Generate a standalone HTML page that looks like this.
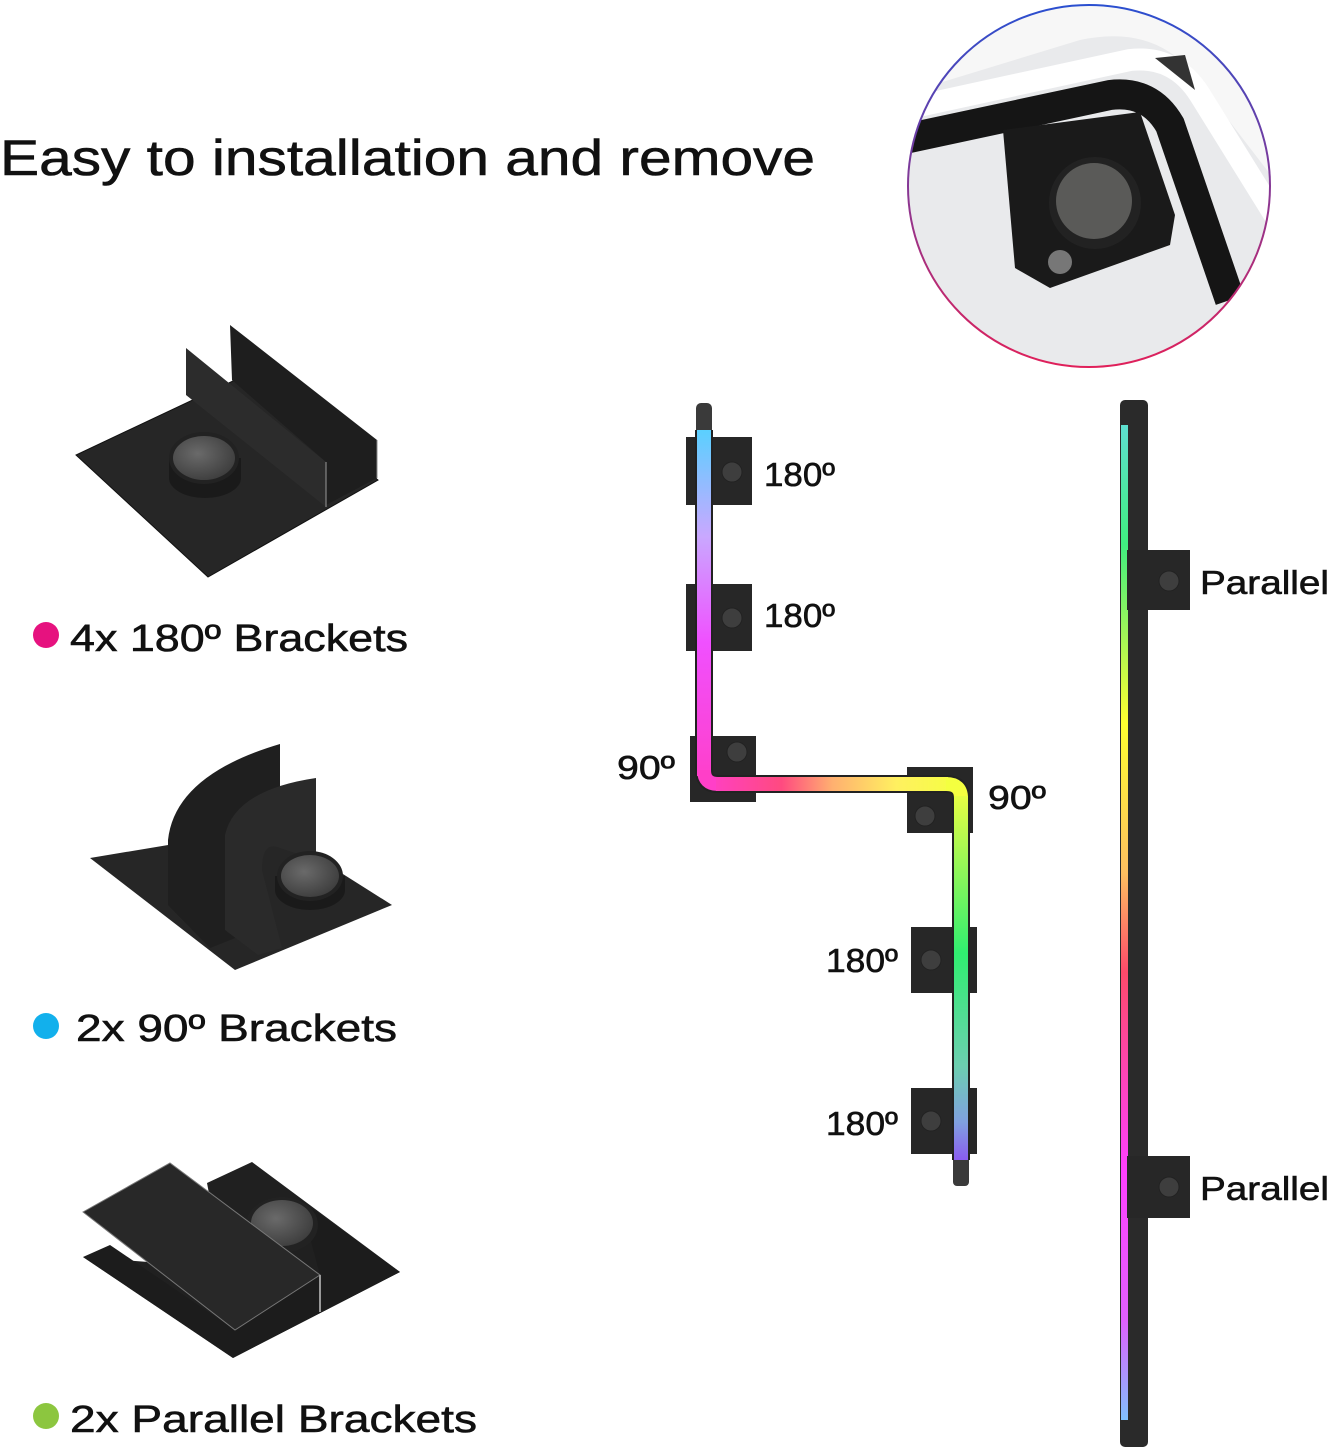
<!DOCTYPE html>
<html><head><meta charset="utf-8"><style>
html,body{margin:0;padding:0;background:#fff;}
svg{display:block;}
text{font-family:"Liberation Sans",sans-serif;fill:#111;stroke:#111;stroke-width:0.6;}
</style></head><body>
<svg width="1331" height="1450" viewBox="0 0 1331 1450" xmlns="http://www.w3.org/2000/svg">
<defs>
<linearGradient id="gv1" x1="0" y1="430" x2="0" y2="784" gradientUnits="userSpaceOnUse">
<stop offset="0" stop-color="#5ad0ff"/><stop offset="0.3" stop-color="#c9a8ff"/><stop offset="0.6" stop-color="#f050ff"/><stop offset="1" stop-color="#ff3fc8"/></linearGradient>
<linearGradient id="gh" x1="705" y1="0" x2="960" y2="0" gradientUnits="userSpaceOnUse">
<stop offset="0" stop-color="#ff3fc8"/><stop offset="0.3" stop-color="#ff4a80"/><stop offset="0.5" stop-color="#ffb070"/><stop offset="0.75" stop-color="#fff060"/><stop offset="1" stop-color="#f4ff40"/></linearGradient>
<linearGradient id="gv2" x1="0" y1="784" x2="0" y2="1160" gradientUnits="userSpaceOnUse">
<stop offset="0" stop-color="#f4ff40"/><stop offset="0.45" stop-color="#30ee70"/><stop offset="0.75" stop-color="#6ccfb0"/><stop offset="0.9" stop-color="#80a0e0"/><stop offset="1" stop-color="#8a5cf0"/></linearGradient>
<linearGradient id="gr" x1="0" y1="425" x2="0" y2="1420" gradientUnits="userSpaceOnUse">
<stop offset="0" stop-color="#5ee0d0"/><stop offset="0.12" stop-color="#40ee80"/><stop offset="0.3" stop-color="#ffff30"/><stop offset="0.45" stop-color="#ffc060"/><stop offset="0.55" stop-color="#ff4a6a"/><stop offset="0.75" stop-color="#ff40ff"/><stop offset="0.9" stop-color="#e060ff"/><stop offset="1" stop-color="#80c0ff"/></linearGradient>
<linearGradient id="ring" x1="0" y1="0" x2="0" y2="1">
<stop offset="0" stop-color="#2a4fd0"/><stop offset="1" stop-color="#e0205a"/></linearGradient>
<clipPath id="cc"><circle cx="1089" cy="186" r="181"/></clipPath>
<radialGradient id="mag" cx="0.4" cy="0.4" r="0.7"><stop offset="0" stop-color="#6a6a6a"/><stop offset="1" stop-color="#3a3a3a"/></radialGradient>
</defs>

<text x="0" y="175" font-size="50" textLength="815" lengthAdjust="spacingAndGlyphs">Easy to installation and remove</text>

<!-- circle photo -->
<g clip-path="url(#cc)">
<rect x="900" y="0" width="380" height="380" fill="#e9eaec"/>
<path d="M900 95 L1080 40 Q1150 25 1190 70 L1290 200 L1290 0 L900 0Z" fill="#f7f7f7"/>
<path d="M900 110 L1130 60 Q1175 55 1200 95 L1290 240" stroke="#fff" stroke-width="22" fill="none"/>
<path d="M900 140 L1110 95 Q1150 90 1170 125 L1230 300" stroke="#151515" stroke-width="30" fill="none"/>
<polygon points="1155,58 1185,55 1195,90" fill="#333"/>
<polygon points="1003,130 1140,112 1175,215 1170,245 1050,288 1015,268" fill="#1a1a1a"/>
<circle cx="1095" cy="203" r="46" fill="#222"/>
<circle cx="1094" cy="201" r="38" fill="#5a5a58"/>
<circle cx="1060" cy="262" r="12" fill="#777"/>
</g>
<circle cx="1089" cy="186" r="181" fill="none" stroke="url(#ring)" stroke-width="2"/>

<!-- bracket 1 -->
<polygon points="76,455 208,577 378,480 252,372" fill="#262626" stroke="#111"/>
<polygon points="230,325 377,440 377,478 326,505 326,462 232,380" fill="#1e1e1e"/>
<polygon points="186,348 326,462 326,507 186,395" fill="#2c2c2c"/>
<line x1="326" y1="462" x2="326" y2="507" stroke="#999"/>
<line x1="377" y1="440" x2="377" y2="478" stroke="#888"/>
<ellipse cx="205" cy="478" rx="36" ry="20" fill="#1a1a1a"/>
<rect x="169" y="458" width="72" height="20" fill="#1a1a1a"/>
<ellipse cx="204" cy="458" rx="35" ry="26" fill="#222"/>
<ellipse cx="204" cy="458" rx="31" ry="22" fill="url(#mag)"/>
<circle cx="46" cy="635" r="13" fill="#e6127f"/>
<text x="70" y="651" font-size="38" textLength="338" lengthAdjust="spacingAndGlyphs">4x 180º Brackets</text>

<!-- bracket 2 -->
<polygon points="90,858 235,970 392,905 270,828" fill="#262626"/>
<path d="M280,744 L280,825 Q230,835 228,880 L235,938 L210,948 L168,905 L168,840 Q175,775 280,744Z" fill="#1f1f1f"/>
<path d="M316,778 L316,860 L280,848 Q262,840 262,870 L282,948 L258,955 L225,930 L225,835 Q235,790 316,778Z" fill="#2a2a2a"/>
<ellipse cx="310" cy="890" rx="35" ry="20" fill="#1a1a1a"/>
<rect x="275" y="876" width="70" height="14" fill="#1a1a1a"/>
<ellipse cx="310" cy="876" rx="33" ry="25" fill="#222"/>
<ellipse cx="310" cy="876" rx="29" ry="21" fill="url(#mag)"/>
<circle cx="46" cy="1026" r="13" fill="#12b0ec"/>
<text x="76" y="1041" font-size="38" textLength="321" lengthAdjust="spacingAndGlyphs">2x 90º Brackets</text>

<!-- bracket 3 -->
<polygon points="83,1257 233,1358 400,1272 252,1162 207,1183 235,1330 320,1275" fill="#202020"/>
<polygon points="83,1257 233,1358 400,1272 300,1200 320,1275 235,1330 110,1245" fill="#1c1c1c"/>
<ellipse cx="282" cy="1225" rx="36" ry="28" fill="#222"/>
<ellipse cx="282" cy="1223" rx="31" ry="23" fill="url(#mag)"/>
<polygon points="83,1212 170,1163 320,1275 235,1330" fill="#282828" stroke="#777" stroke-width="1"/>
<line x1="320" y1="1275" x2="320" y2="1312" stroke="#999" stroke-width="2"/>
<circle cx="46" cy="1416" r="13" fill="#8cc63f"/>
<text x="70" y="1432" font-size="38" textLength="407" lengthAdjust="spacingAndGlyphs">2x Parallel Brackets</text>

<!-- center strip brackets -->
<g fill="#272727">
<rect x="686" y="437" width="66" height="68"/>
<rect x="686" y="584" width="66" height="67"/>
<rect x="690" y="736" width="66" height="66"/>
<rect x="907" y="767" width="66" height="66"/>
<rect x="911" y="927" width="66" height="66"/>
<rect x="911" y="1088" width="66" height="66"/>
</g>
<g fill="#3e3e3e" stroke="#222">
<circle cx="732" cy="472" r="10"/><circle cx="732" cy="618" r="10"/><circle cx="737" cy="752" r="10"/>
<circle cx="925" cy="816" r="10"/><circle cx="931" cy="960" r="10"/><circle cx="931" cy="1121" r="10"/>
</g>
<rect x="696" y="403" width="16" height="40" rx="5" fill="#3a3a3a"/>
<rect x="953" y="1140" width="16" height="46" rx="4" fill="#3a3a3a"/>
<path d="M704,430 L704,770 Q704,784 718,784 L946,784 Q961,784 961,798 L961,1160" fill="none" stroke="#222" stroke-width="18"/>
<path d="M704,430 L704,776" stroke="url(#gv1)" stroke-width="14" fill="none"/>
<path d="M704,770 Q704,784 718,784" stroke="#ff3fc8" stroke-width="14" fill="none"/>
<path d="M716,784 L948,784" stroke="url(#gh)" stroke-width="14" fill="none"/>
<path d="M946,784 Q961,784 961,798" stroke="#f4ff40" stroke-width="14" fill="none"/>
<path d="M961,796 L961,1160" stroke="url(#gv2)" stroke-width="14" fill="none"/>
<g font-size="33">
<text x="764" y="486" textLength="71" lengthAdjust="spacingAndGlyphs">180º</text>
<text x="764" y="627" textLength="71" lengthAdjust="spacingAndGlyphs">180º</text>
<text x="617" y="779" textLength="58" lengthAdjust="spacingAndGlyphs">90º</text>
<text x="988" y="809" textLength="58" lengthAdjust="spacingAndGlyphs">90º</text>
<text x="826" y="972" textLength="72" lengthAdjust="spacingAndGlyphs">180º</text>
<text x="826" y="1135" textLength="72" lengthAdjust="spacingAndGlyphs">180º</text>
</g>

<!-- right strip -->
<rect x="1120" y="400" width="28" height="1047" rx="5" fill="#2a2a2a"/>
<rect x="1121" y="425" width="7" height="995" fill="url(#gr)"/>
<rect x="1127" y="550" width="63" height="60" fill="#272727"/>
<rect x="1127" y="1156" width="63" height="62" fill="#272727"/>
<circle cx="1169" cy="581" r="10" fill="#3e3e3e" stroke="#222"/>
<circle cx="1169" cy="1187" r="10" fill="#3e3e3e" stroke="#222"/>
<text x="1200" y="594" font-size="33" textLength="129" lengthAdjust="spacingAndGlyphs">Parallel</text>
<text x="1200" y="1200" font-size="33" textLength="129" lengthAdjust="spacingAndGlyphs">Parallel</text>
</svg>
</body></html>
